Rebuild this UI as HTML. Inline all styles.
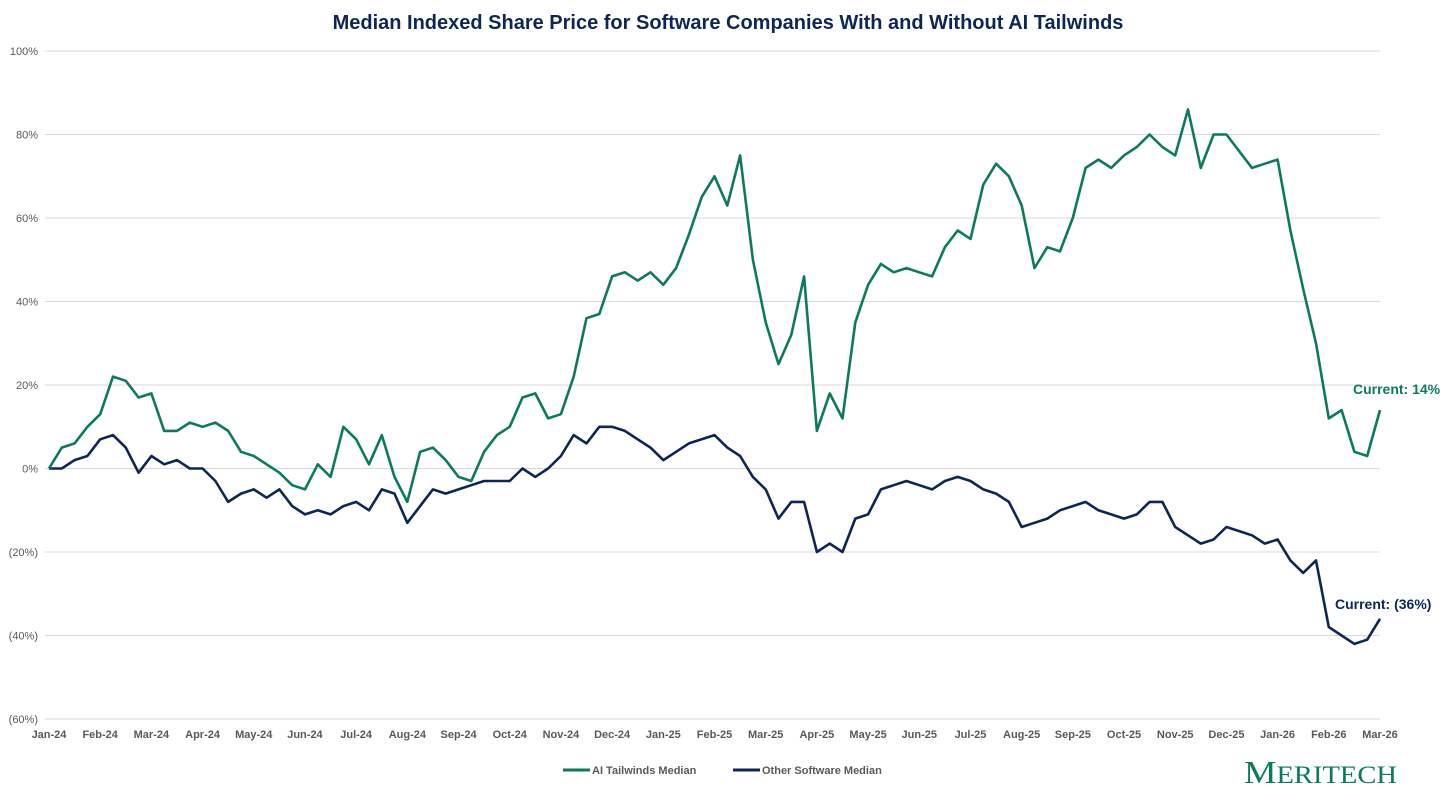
<!DOCTYPE html>
<html><head><meta charset="utf-8"><style>
body{margin:0;background:#fff;width:1456px;height:790px;overflow:hidden;font-family:"Liberation Sans",sans-serif}
</style></head><body>
<svg id="chart" width="1456" height="790" xmlns="http://www.w3.org/2000/svg">
<text x="728" y="29" text-anchor="middle" font-size="20" font-weight="bold" fill="#0c2757">Median Indexed Share Price for Software Companies With and Without AI Tailwinds</text>
<g id="grid"></g><g id="yl"></g><g id="xl"></g><g id="series"></g>
<text x="1353" y="394" font-size="14" font-weight="bold" fill="#0b7a5e">Current: 14%</text>
<text x="1335" y="609" font-size="14" font-weight="bold" fill="#0c2757">Current: (36%)</text>
<g>
<line x1="563" y1="770" x2="590" y2="770" stroke="#0b7a5e" stroke-width="3"/>
<text x="592" y="774" font-size="11" font-weight="bold" fill="#595959">AI Tailwinds Median</text>
<line x1="733" y1="770" x2="760" y2="770" stroke="#0c2757" stroke-width="3"/>
<text x="762" y="774" font-size="11" font-weight="bold" fill="#595959">Other Software Median</text>
</g>
<text x="1244" y="783" font-family="Liberation Serif,serif" font-size="32" fill="#0b7a5e" textLength="153" lengthAdjust="spacingAndGlyphs">M<tspan font-size="25">ERITECH</tspan></text>
</svg>
<script>
const months=["Jan-24","Feb-24","Mar-24","Apr-24","May-24","Jun-24","Jul-24","Aug-24","Sep-24","Oct-24","Nov-24","Dec-24","Jan-25","Feb-25","Mar-25","Apr-25","May-25","Jun-25","Jul-25","Aug-25","Sep-25","Oct-25","Nov-25","Dec-25","Jan-26","Feb-26","Mar-26"];
const yTicks=[100,80,60,40,20,0,-20,-40,-60];
const aiValues=[0,5,6,10,13,22,21,17,18,9,9,11,10,11,9,4,3,1,-1,-4,-5,1,-2,10,7,1,8,-2,-8,4,5,2,-2,-3,4,8,10,17,18,12,13,22,36,37,46,47,45,47,44,48,56,65,70,63,75,50,35,25,32,46,9,18,12,35,44,49,47,48,47,46,53,57,55,68,73,70,63,48,53,52,60,72,74,72,75,77,80,77,75,86,72,80,80,76,72,73,74,57,43,30,12,14,4,3,14];
const otherValues=[0,0,2,3,7,8,5,-1,3,1,2,0,0,-3,-8,-6,-5,-7,-5,-9,-11,-10,-11,-9,-8,-10,-5,-6,-13,-9,-5,-6,-5,-4,-3,-3,-3,0,-2,0,3,8,6,10,10,9,7,5,2,4,6,7,8,5,3,-2,-5,-12,-8,-8,-20,-18,-20,-12,-11,-5,-4,-3,-4,-5,-3,-2,-3,-5,-6,-8,-14,-13,-12,-10,-9,-8,-10,-11,-12,-11,-8,-8,-14,-16,-18,-17,-14,-15,-16,-18,-17,-22,-25,-22,-38,-40,-42,-41,-36];
const NS="http://www.w3.org/2000/svg";
const x0=49,x1=1380,yTop=51,yBot=719;
const xM=m=>x0+(x1-x0)*m/(months.length-1);
const yV=v=>yTop+(100-v)*(yBot-yTop)/160;
function mk(t,a,p){const e=document.createElementNS(NS,t);for(const k in a)e.setAttribute(k,a[k]);p.appendChild(e);return e;}
const grid=document.getElementById('grid'),yl=document.getElementById('yl'),xl=document.getElementById('xl'),ser=document.getElementById('series');
yTicks.forEach(v=>{
 const l=mk('line',{x1:45,x2:x1,y1:yV(v),y2:yV(v),stroke:'#d9d9d9','stroke-width':1},grid);
 
 
 const t=mk('text',{x:38,y:yV(v)+4,'text-anchor':'end','font-size':11,fill:'#595959'},yl);
 t.textContent=v<0?'('+(-v)+'%)':v+'%';
 
 
});
months.forEach((m,i)=>{
 const t=mk('text',{x:xM(i),y:738,'text-anchor':'middle','font-size':11,'font-weight':'bold',fill:'#595959'},xl);
 t.textContent=m;
 
 
});
function line(vals,col,name){
 const n=vals.length-1;
 const d=vals.map((v,i)=>(i?'L':'M')+xM(i*(months.length-1)/n).toFixed(1)+','+yV(v).toFixed(1)).join('');
 const p=mk('path',{d:d,fill:'none',stroke:col,'stroke-width':2.6,'stroke-linejoin':'round'},ser);
 
 
}
line(otherValues,'#0c2757','other-software-line');
line(aiValues,'#0b7a5e','ai-tailwinds-line');
</script>
</body></html>
